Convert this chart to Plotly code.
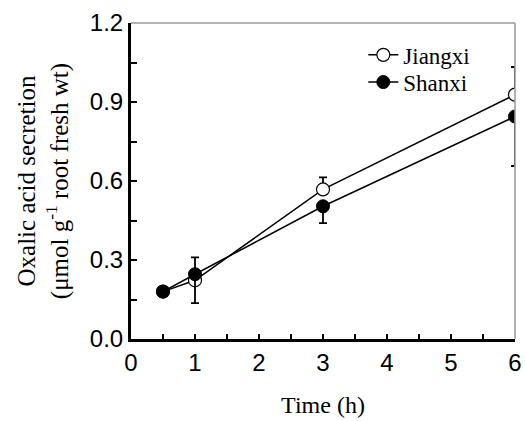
import plotly.graph_objects as go

time_h = [0.5, 1, 3, 6]
jiangxi = [0.18, 0.223, 0.568, 0.928]
jiangxi_err_up = [0.0, 0.087, 0.046, 0.105]
shanxi = [0.18, 0.246, 0.504, 0.845]
shanxi_err_down = [0.0, 0.11, 0.064, 0.188]

fig = go.Figure()
fig.add_trace(go.Scatter(
    x=time_h, y=jiangxi, name="Jiangxi", mode="lines+markers", legend="legend",
    line=dict(color="black", width=1.5),
    marker=dict(symbol="circle", size=13, color="white", line=dict(color="black", width=1.2)),
    error_y=dict(type="data", symmetric=False, array=jiangxi_err_up,
                 arrayminus=[0]*4, color="black", thickness=1.8, width=4),
))
fig.add_trace(go.Scatter(
    x=time_h, y=shanxi, name="Shanxi", mode="lines+markers", legend="legend2",
    line=dict(color="black", width=1.5),
    marker=dict(symbol="circle", size=13, color="black", line=dict(color="black", width=1)),
    error_y=dict(type="data", symmetric=False, array=[0]*4,
                 arrayminus=shanxi_err_down, color="black", thickness=1.8, width=4),
))

serif = "Liberation Serif, Times New Roman, serif"
tickfont = dict(family="Liberation Sans, Arial", size=24, color="black")
legfont = dict(family=serif, size=23, color="black")
fig.update_layout(
    width=525, height=421,
    margin=dict(l=131, r=10, t=23, b=82, autoexpand=False),
    paper_bgcolor="white", plot_bgcolor="white",
    showlegend=True,
    legend=dict(x=0.605, y=0.899, xanchor="left", yanchor="middle", font=legfont,
                bgcolor="rgba(0,0,0,0)", itemwidth=30),
    legend2=dict(x=0.605, y=0.813, xanchor="left", yanchor="middle", font=legfont,
                 bgcolor="rgba(0,0,0,0)", itemwidth=30),
    xaxis=dict(range=[0, 6], tickvals=[0, 1, 2, 3, 4, 5, 6], ticks="inside", ticklen=5,
               tickcolor="black", tickwidth=1.5, showline=True, linecolor="black", linewidth=3,
               showgrid=False, zeroline=False, tickfont=tickfont, automargin=False,
               minor=dict(dtick=0.5, ticks="inside", ticklen=5, tickcolor="black", tickwidth=1.5),
               title=dict(text="Time (h)", font=dict(family=serif, size=24, color="black"), standoff=22)),
    yaxis=dict(range=[0, 1.2], tickvals=[0, 0.3, 0.6, 0.9, 1.2], tickformat=".1f",
               ticks="inside", ticklen=6, tickcolor="black", tickwidth=1.5, automargin=False,
               showline=True, linecolor="black", linewidth=3, showgrid=False, zeroline=False,
               tickfont=tickfont,
               minor=dict(tickvals=[0.15, 0.45, 0.75, 1.05], ticks="inside", ticklen=6, tickcolor="black", tickwidth=1.5),
               title=dict(text="Oxalic acid secretion<br>(μmol g<sup>-1</sup> root fresh wt)",
                          font=dict(family=serif, size=25, color="black"), standoff=15)),
)
fig.add_shape(type="line", xref="paper", yref="paper", x0=0, x1=1, y0=1, y1=1,
              line=dict(color="#999999", width=1.5))
fig.add_shape(type="line", xref="paper", yref="paper", x0=1, x1=1, y0=0, y1=1,
              line=dict(color="#999999", width=1.5))
fig.write_html("out.html", config={"displayModeBar": False},
               post_script="document.body.style.margin='0';")
